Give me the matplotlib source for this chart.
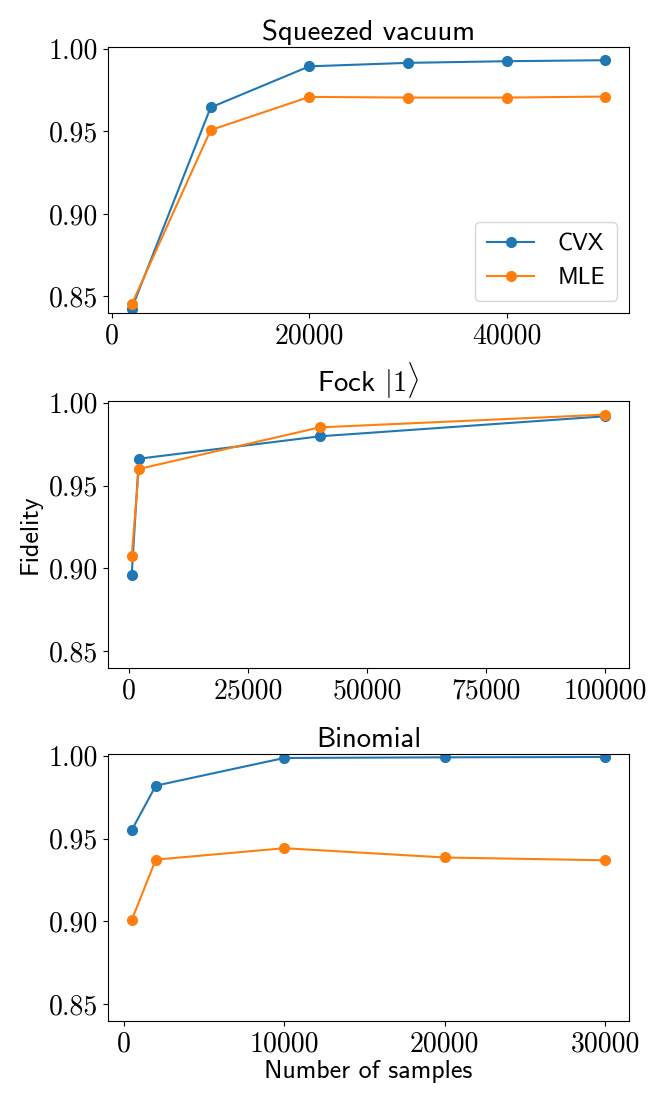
import matplotlib
matplotlib.use("Agg")
import matplotlib.pyplot as plt
from matplotlib.ticker import FormatStrFormatter

plt.rcParams['mathtext.fontset'] = 'cm'
plt.rcParams['font.family'] = 'cmr10'
plt.rcParams['axes.unicode_minus'] = False

# Squeezed vacuum
sq_samples = [2000, 10000, 20000, 30000, 40000, 50000]
sq_cvx = [0.8426, 0.9644, 0.9893, 0.9914, 0.9924, 0.9930]
sq_mle = [0.8452, 0.9507, 0.9708, 0.9704, 0.9704, 0.9710]

# Fock |1>
fock_samples = [500, 2000, 40000, 100000]
fock_cvx = [0.8960, 0.9662, 0.9797, 0.9918]
fock_mle = [0.9073, 0.9600, 0.9851, 0.9928]

# Binomial
bin_samples = [500, 2000, 10000, 20000, 30000]
bin_cvx = [0.9550, 0.9819, 0.9986, 0.9990, 0.9992]
bin_mle = [0.9008, 0.9373, 0.9442, 0.9386, 0.9369]

titles = ['Squeezed vacuum', 'Fock $|1\\rangle$', 'Binomial']
xticks = [[0, 20000, 40000], [0, 25000, 50000, 75000, 100000], [0, 10000, 20000, 30000]]
yticks = [0.85, 0.90, 0.95, 1.00]

fig = plt.figure(figsize=(6.64, 11.07), dpi=100)
W, H = 664.0, 1107.0
left, right = 108, 629
boxes = [(47, 313), (401, 668), (754, 1021)]
axes = []
for (t, b) in boxes:
    ax = fig.add_axes([left / W, 1 - b / H, (right - left) / W, (b - t) / H])
    axes.append(ax)

data = [(sq_samples, sq_cvx, sq_mle), (fock_samples, fock_cvx, fock_mle), (bin_samples, bin_cvx, bin_mle)]
sans = 'cmss10'
for i, ax in enumerate(axes):
    xs, cvx, mle = data[i]
    ax.plot(xs, cvx, marker='o', markersize=7, lw=1.5, color='#1f77b4', label='CVX')
    ax.plot(xs, mle, marker='o', markersize=7, lw=1.5, color='#ff7f0e', label='MLE')
    ax.set_ylim(0.84, 1.001)
    ax.set_yticks(yticks)
    ax.set_xticks(xticks[i])
    ax.yaxis.set_major_formatter(FormatStrFormatter('%.2f'))
    ax.xaxis.set_major_formatter(FormatStrFormatter('%d'))
    ax.tick_params(labelsize=20)
    ax.set_title(titles[i], fontsize=20.7, family=sans, pad=5)

axes[0].legend(loc='lower right', prop={'family': sans, 'size': 17},
               handlelength=2.0, borderpad=0.5, labelspacing=0.5, handletextpad=1.0)
axes[1].set_ylabel('Fidelity', fontsize=18.7, family=sans, labelpad=5)
axes[2].set_xlabel('Number of samples', fontsize=18.7, family=sans, labelpad=2)

fig.savefig('out.png', dpi=100)
